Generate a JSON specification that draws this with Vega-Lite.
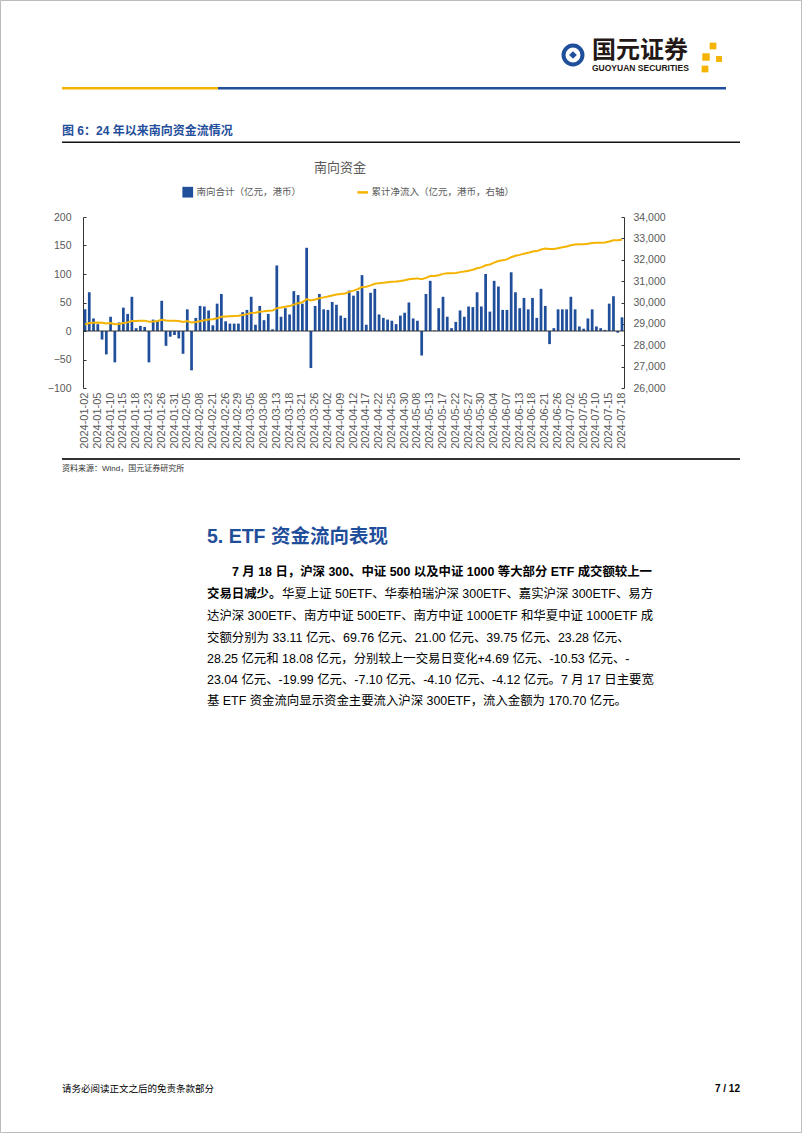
{
  "$schema": "https://vega.github.io/schema/vega-lite/v6.json",
  "width": 541,
  "height": 171,
  "autosize": "none",
  "padding": {"left": 83, "top": 217, "right": 178, "bottom": 745},
  "background": "white",
  "config": {
    "view": {"stroke": null},
    "font": "Liberation Sans, Noto Sans CJK SC",
    "axis": {"labelOverlap": false, "domainColor": "#333333", "tickColor": "#333333", "grid": false}
  },
  "datasets": {
    "sb": [
      {"date": "2024-01-02", "net": 38, "cum": 28968},
      {"date": "2024-01-03", "net": 68, "cum": 29036},
      {"date": "2024-01-04", "net": 22, "cum": 29058},
      {"date": "2024-01-05", "net": 12, "cum": 29070},
      {"date": "2024-01-08", "net": -15, "cum": 29055},
      {"date": "2024-01-09", "net": -41, "cum": 29014},
      {"date": "2024-01-10", "net": 25, "cum": 29039},
      {"date": "2024-01-11", "net": -55, "cum": 28984},
      {"date": "2024-01-12", "net": 15, "cum": 28999},
      {"date": "2024-01-15", "net": 41, "cum": 29040},
      {"date": "2024-01-16", "net": 30, "cum": 29070},
      {"date": "2024-01-17", "net": 60, "cum": 29130},
      {"date": "2024-01-18", "net": 5, "cum": 29135},
      {"date": "2024-01-19", "net": 9, "cum": 29144},
      {"date": "2024-01-22", "net": 7, "cum": 29151},
      {"date": "2024-01-23", "net": -55, "cum": 29096},
      {"date": "2024-01-24", "net": 20, "cum": 29116},
      {"date": "2024-01-25", "net": 18, "cum": 29134},
      {"date": "2024-01-26", "net": 53, "cum": 29187},
      {"date": "2024-01-29", "net": -26, "cum": 29161},
      {"date": "2024-01-30", "net": -10, "cum": 29151},
      {"date": "2024-01-31", "net": -7, "cum": 29144},
      {"date": "2024-02-01", "net": -13, "cum": 29131},
      {"date": "2024-02-02", "net": -40, "cum": 29091},
      {"date": "2024-02-05", "net": 38, "cum": 29129},
      {"date": "2024-02-06", "net": -69, "cum": 29060},
      {"date": "2024-02-07", "net": 23, "cum": 29083},
      {"date": "2024-02-08", "net": 44, "cum": 29127},
      {"date": "2024-02-19", "net": 43, "cum": 29170},
      {"date": "2024-02-20", "net": 36, "cum": 29206},
      {"date": "2024-02-21", "net": 10, "cum": 29216},
      {"date": "2024-02-22", "net": 48, "cum": 29264},
      {"date": "2024-02-23", "net": 65, "cum": 29329},
      {"date": "2024-02-26", "net": 17, "cum": 29346},
      {"date": "2024-02-27", "net": 13, "cum": 29359},
      {"date": "2024-02-28", "net": 13, "cum": 29372},
      {"date": "2024-02-29", "net": 13, "cum": 29385},
      {"date": "2024-03-01", "net": 33, "cum": 29418},
      {"date": "2024-03-04", "net": 37, "cum": 29455},
      {"date": "2024-03-05", "net": 60, "cum": 29515},
      {"date": "2024-03-06", "net": 11, "cum": 29526},
      {"date": "2024-03-07", "net": 44, "cum": 29570},
      {"date": "2024-03-08", "net": 19, "cum": 29589},
      {"date": "2024-03-11", "net": 30, "cum": 29619},
      {"date": "2024-03-12", "net": 3, "cum": 29622},
      {"date": "2024-03-13", "net": 115, "cum": 29737},
      {"date": "2024-03-14", "net": 25, "cum": 29762},
      {"date": "2024-03-15", "net": 40, "cum": 29802},
      {"date": "2024-03-18", "net": 29, "cum": 29831},
      {"date": "2024-03-19", "net": 70, "cum": 29901},
      {"date": "2024-03-20", "net": 63, "cum": 29964},
      {"date": "2024-03-21", "net": 48, "cum": 30012},
      {"date": "2024-03-22", "net": 146, "cum": 30158},
      {"date": "2024-03-25", "net": -65, "cum": 30093},
      {"date": "2024-03-26", "net": 44, "cum": 30137},
      {"date": "2024-03-27", "net": 65, "cum": 30202},
      {"date": "2024-03-28", "net": 38, "cum": 30240},
      {"date": "2024-04-02", "net": 37, "cum": 30277},
      {"date": "2024-04-03", "net": 51, "cum": 30328},
      {"date": "2024-04-08", "net": 46, "cum": 30374},
      {"date": "2024-04-09", "net": 27, "cum": 30401},
      {"date": "2024-04-10", "net": 23, "cum": 30424},
      {"date": "2024-04-11", "net": 71, "cum": 30495},
      {"date": "2024-04-12", "net": 62, "cum": 30557},
      {"date": "2024-04-15", "net": 70, "cum": 30627},
      {"date": "2024-04-16", "net": 98, "cum": 30725},
      {"date": "2024-04-17", "net": 11, "cum": 30736},
      {"date": "2024-04-18", "net": 67, "cum": 30803},
      {"date": "2024-04-19", "net": 74, "cum": 30877},
      {"date": "2024-04-22", "net": 29, "cum": 30906},
      {"date": "2024-04-23", "net": 23, "cum": 30929},
      {"date": "2024-04-24", "net": 20, "cum": 30949},
      {"date": "2024-04-25", "net": 18, "cum": 30967},
      {"date": "2024-04-26", "net": 12, "cum": 30979},
      {"date": "2024-04-29", "net": 27, "cum": 31006},
      {"date": "2024-04-30", "net": 32, "cum": 31038},
      {"date": "2024-05-06", "net": 50, "cum": 31088},
      {"date": "2024-05-07", "net": 22, "cum": 31110},
      {"date": "2024-05-08", "net": 18, "cum": 31128},
      {"date": "2024-05-09", "net": -43, "cum": 31085},
      {"date": "2024-05-10", "net": 65, "cum": 31150},
      {"date": "2024-05-13", "net": 88, "cum": 31238},
      {"date": "2024-05-14", "net": 1, "cum": 31239},
      {"date": "2024-05-16", "net": 40, "cum": 31279},
      {"date": "2024-05-17", "net": 60, "cum": 31339},
      {"date": "2024-05-20", "net": 25, "cum": 31364},
      {"date": "2024-05-21", "net": 5, "cum": 31369},
      {"date": "2024-05-22", "net": 16, "cum": 31385},
      {"date": "2024-05-23", "net": 36, "cum": 31421},
      {"date": "2024-05-24", "net": 25, "cum": 31446},
      {"date": "2024-05-27", "net": 43, "cum": 31489},
      {"date": "2024-05-28", "net": 42, "cum": 31531},
      {"date": "2024-05-29", "net": 68, "cum": 31599},
      {"date": "2024-05-30", "net": 43, "cum": 31642},
      {"date": "2024-05-31", "net": 100, "cum": 31742},
      {"date": "2024-06-03", "net": 34, "cum": 31776},
      {"date": "2024-06-04", "net": 88, "cum": 31864},
      {"date": "2024-06-05", "net": 78, "cum": 31942},
      {"date": "2024-06-06", "net": 37, "cum": 31979},
      {"date": "2024-06-07", "net": 37, "cum": 32016},
      {"date": "2024-06-11", "net": 103, "cum": 32119},
      {"date": "2024-06-12", "net": 68, "cum": 32187},
      {"date": "2024-06-13", "net": 40, "cum": 32227},
      {"date": "2024-06-14", "net": 58, "cum": 32285},
      {"date": "2024-06-17", "net": 38, "cum": 32323},
      {"date": "2024-06-18", "net": 58, "cum": 32381},
      {"date": "2024-06-19", "net": 23, "cum": 32404},
      {"date": "2024-06-20", "net": 74, "cum": 32478},
      {"date": "2024-06-21", "net": 44, "cum": 32522},
      {"date": "2024-06-24", "net": -23, "cum": 32499},
      {"date": "2024-06-25", "net": 5, "cum": 32504},
      {"date": "2024-06-26", "net": 38, "cum": 32542},
      {"date": "2024-06-27", "net": 38, "cum": 32580},
      {"date": "2024-06-28", "net": 38, "cum": 32618},
      {"date": "2024-07-02", "net": 60, "cum": 32678},
      {"date": "2024-07-03", "net": 38, "cum": 32716},
      {"date": "2024-07-04", "net": 8, "cum": 32724},
      {"date": "2024-07-05", "net": 4, "cum": 32728},
      {"date": "2024-07-08", "net": 22, "cum": 32750},
      {"date": "2024-07-09", "net": 38, "cum": 32788},
      {"date": "2024-07-10", "net": 8, "cum": 32796},
      {"date": "2024-07-11", "net": 5, "cum": 32801},
      {"date": "2024-07-12", "net": 2, "cum": 32803},
      {"date": "2024-07-15", "net": 48, "cum": 32851},
      {"date": "2024-07-16", "net": 61, "cum": 32912},
      {"date": "2024-07-17", "net": -3, "cum": 32909},
      {"date": "2024-07-18", "net": 24, "cum": 32933}
    ]
  },
  "layer": [
    {
      "data": {"name": "sb"},
      "layer": [
        {
          "mark": {"type": "bar"},
          "encoding": {
            "x": {
              "field": "date", "type": "ordinal",
              "scale": {"paddingInner": 0.36, "paddingOuter": 0.15},
              "axis": {
                "title": null, "domain": false, "ticks": false, "labelAngle": -90, "labelPadding": 4,
                "labelFontSize": 11, "labelColor": "#595959", "labelFont": "Liberation Sans", "labelOverlap": false,
                "values": ["2024-01-02","2024-01-05","2024-01-10","2024-01-15","2024-01-18","2024-01-23","2024-01-26","2024-01-31","2024-02-05","2024-02-08","2024-02-21","2024-02-26","2024-02-29","2024-03-05","2024-03-08","2024-03-13","2024-03-18","2024-03-21","2024-03-26","2024-04-02","2024-04-09","2024-04-12","2024-04-17","2024-04-22","2024-04-25","2024-04-30","2024-05-08","2024-05-13","2024-05-17","2024-05-22","2024-05-27","2024-05-30","2024-06-04","2024-06-07","2024-06-13","2024-06-18","2024-06-21","2024-06-26","2024-07-02","2024-07-05","2024-07-10","2024-07-15","2024-07-18"]
              }
            },
            "y": {
              "field": "net", "type": "quantitative",
              "scale": {"domain": [-100, 200], "nice": false},
              "axis": {
                "title": null, "orient": "left", "grid": false, "values": [-100, -50, 0, 50, 100, 150, 200],
                "labelOverlap": false, "domain": true, "domainColor": "#333333", "domainWidth": 1,
                "tickColor": "#333333", "tickSize": -3, "labelPadding": 15,
                "labelFontSize": 10.5, "labelColor": "#595959", "labelFont": "Liberation Sans"
              }
            },
            "color": {
              "datum": "南向合计（亿元，港币）",
              "scale": {"domain": ["南向合计（亿元，港币）", "累计净流入（亿元，港币，右轴）"], "range": ["#1F4E9B", "#F5B301"]},
              "legend": {
                "orient": "none", "legendX": 100, "legendY": -30, "direction": "horizontal", "title": null,
                "labelFontSize": 9.5, "labelColor": "#595959", "labelFont": "Noto Sans CJK SC",
                "columnPadding": 50, "labelOffset": 4, "symbolSize": 115,
                "encode": {
                  "symbols": {
                    "update": {
                      "shape": {"signal": "datum.value === '南向合计（亿元，港币）' ? 'square' : 'stroke'"},
                      "fill": {"signal": "scale('color', datum.value)"},
                      "stroke": {"signal": "scale('color', datum.value)"},
                      "strokeWidth": {"signal": "datum.value === '南向合计（亿元，港币）' ? 0 : 2.5"},
                      "opacity": {"value": 1},
                      "fillOpacity": {"value": 1}
                    }
                  }
                }
              }
            }
          }
        },
        {
          "data": {"values": [{}]},
          "mark": {"type": "rule", "color": "#333333", "strokeWidth": 1},
          "encoding": {
            "y": {
              "datum": 0, "type": "quantitative",
              "axis": {
                "title": null, "orient": "left", "grid": false, "values": [-100, -50, 0, 50, 100, 150, 200],
                "labelOverlap": false, "domain": true, "domainColor": "#333333", "domainWidth": 1,
                "tickColor": "#333333", "tickSize": -3, "labelPadding": 15,
                "labelFontSize": 10.5, "labelColor": "#595959", "labelFont": "Liberation Sans"
              }
            }
          }
        }
      ]
    },
    {
      "data": {"name": "sb"},
      "mark": {"type": "line", "strokeWidth": 2},
      "encoding": {
        "x": {"field": "date", "type": "ordinal", "axis": {"title": null}},
        "y": {
          "field": "cum", "type": "quantitative",
          "scale": {"domain": [26000, 34000], "nice": false},
          "axis": {
            "title": null, "orient": "right", "grid": false, "format": ",d",
            "values": [26000, 27000, 28000, 29000, 30000, 31000, 32000, 33000, 34000],
            "labelOverlap": false, "domain": true, "domainColor": "#333333", "domainWidth": 1,
            "tickColor": "#333333", "tickSize": -3, "labelPadding": 12,
            "labelFontSize": 10.5, "labelColor": "#595959", "labelFont": "Liberation Sans"
          }
        },
        "color": {"datum": "累计净流入（亿元，港币，右轴）"}
      }
    },
    {
      "data": {"values": [{}]},
      "layer": [
        {"mark": {"type": "rect", "fillOpacity": 0, "stroke": "#bbbbbb", "strokeWidth": 1},
         "encoding": {"x": {"value": -82.5}, "x2": {"value": 718.5}, "y": {"value": -216.5}, "y2": {"value": 915.5}}},
        {"mark": {"type": "rect", "color": "#F5B301"},
         "encoding": {"x": {"value": -21}, "x2": {"value": 135}, "y": {"value": -130}, "y2": {"value": -127.5}}},
        {"mark": {"type": "rect", "color": "#1F4E9B"},
         "encoding": {"x": {"value": 135}, "x2": {"value": 643}, "y": {"value": -130}, "y2": {"value": -127.5}}},
        {"mark": {"type": "point", "shape": "circle", "filled": false, "stroke": "#1F4E9B", "strokeWidth": 4, "size": 360, "opacity": 1},
         "encoding": {"x": {"value": 490}, "y": {"value": -162}}},
        {"mark": {"type": "point", "shape": "diamond", "filled": true, "color": "#1F4E9B", "size": 60, "opacity": 1},
         "encoding": {"x": {"value": 490}, "y": {"value": -162}}},
        {"mark": {"type": "text", "text": "国元证券", "align": "left", "baseline": "middle", "fontSize": 24, "fontWeight": "bold", "font": "Noto Sans CJK SC", "color": "#231815"},
         "encoding": {"x": {"value": 509}, "y": {"value": -166}}},
        {"mark": {"type": "text", "text": "GUOYUAN SECURITIES", "align": "left", "baseline": "middle", "fontSize": 8.5, "fontWeight": "bold", "font": "Liberation Sans", "color": "#231815"},
         "encoding": {"x": {"value": 509}, "y": {"value": -149}}},
        {"mark": {"type": "point", "shape": "square", "filled": true, "color": "#F5B301", "size": 45, "opacity": 1},
         "encoding": {"x": {"value": 630}, "y": {"value": -171}}},
        {"mark": {"type": "point", "shape": "square", "filled": true, "color": "#F5B301", "size": 55, "opacity": 1},
         "encoding": {"x": {"value": 623}, "y": {"value": -160}}},
        {"mark": {"type": "point", "shape": "square", "filled": true, "color": "#F5B301", "size": 35, "opacity": 1},
         "encoding": {"x": {"value": 636}, "y": {"value": -158}}},
        {"mark": {"type": "point", "shape": "square", "filled": true, "color": "#F5B301", "size": 45, "opacity": 1},
         "encoding": {"x": {"value": 622}, "y": {"value": -148}}},
        {"mark": {"type": "text", "text": "图 6：24 年以来南向资金流情况", "align": "left", "baseline": "middle", "fontSize": 12, "fontWeight": "bold", "font": "Liberation Sans, Noto Sans CJK SC", "color": "#1F4E9B"},
         "encoding": {"x": {"value": -21}, "y": {"value": -86}}},
        {"mark": {"type": "rect", "color": "#111111"},
         "encoding": {"x": {"value": -21}, "x2": {"value": 657}, "y": {"value": -75.5}, "y2": {"value": -74}}},
        {"mark": {"type": "text", "text": "南向资金", "align": "center", "baseline": "middle", "fontSize": 13, "font": "Noto Sans CJK SC", "color": "#595959"},
         "encoding": {"x": {"value": 257}, "y": {"value": -49}}},
        {"mark": {"type": "rect", "color": "#333333"},
         "encoding": {"x": {"value": -21}, "x2": {"value": 657}, "y": {"value": 241}, "y2": {"value": 243}}},
        {"mark": {"type": "text", "text": "资料来源：Wind，国元证券研究所", "align": "left", "baseline": "middle", "fontSize": 8, "font": "Liberation Sans, Noto Sans CJK SC", "color": "#333333"},
         "encoding": {"x": {"value": -21}, "y": {"value": 252}}},
        {"mark": {"type": "text", "text": "5. ETF 资金流向表现", "align": "left", "baseline": "middle", "fontSize": 19.5, "fontWeight": "bold", "font": "Liberation Sans, Noto Sans CJK SC", "color": "#1F4E9B"},
         "encoding": {"x": {"value": 124}, "y": {"value": 320}}},
        {"mark": {"type": "text", "text": "7 月 18 日，沪深 300、中证 500 以及中证 1000 等大部分 ETF 成交额较上一", "align": "left", "baseline": "middle", "fontSize": 12.4, "fontWeight": "bold", "font": "Liberation Sans, Noto Sans CJK SC", "color": "#000000"},
         "encoding": {"x": {"value": 149}, "y": {"value": 355}}},
        {"mark": {"type": "text", "text": "交易日减少。", "align": "left", "baseline": "middle", "fontSize": 12.4, "fontWeight": "bold", "font": "Liberation Sans, Noto Sans CJK SC", "color": "#000000"},
         "encoding": {"x": {"value": 124}, "y": {"value": 377}}},
        {"mark": {"type": "text", "text": "华夏上证 50ETF、华泰柏瑞沪深 300ETF、嘉实沪深 300ETF、易方", "align": "left", "baseline": "middle", "fontSize": 12.4, "font": "Liberation Sans, Noto Sans CJK SC", "color": "#000000"},
         "encoding": {"x": {"value": 199}, "y": {"value": 377}}},
        {"mark": {"type": "text", "text": "达沪深 300ETF、南方中证 500ETF、南方中证 1000ETF 和华夏中证 1000ETF 成", "align": "left", "baseline": "middle", "fontSize": 12.4, "font": "Liberation Sans, Noto Sans CJK SC", "color": "#000000"},
         "encoding": {"x": {"value": 124}, "y": {"value": 399}}},
        {"mark": {"type": "text", "text": "交额分别为  33.11 亿元、69.76 亿元、21.00 亿元、39.75 亿元、23.28 亿元、", "align": "left", "baseline": "middle", "fontSize": 12.4, "font": "Liberation Sans, Noto Sans CJK SC", "color": "#000000"},
         "encoding": {"x": {"value": 124}, "y": {"value": 420.5}}},
        {"mark": {"type": "text", "text": "28.25 亿元和  18.08 亿元，分别较上一交易日变化+4.69 亿元、-10.53 亿元、-", "align": "left", "baseline": "middle", "fontSize": 12.4, "font": "Liberation Sans, Noto Sans CJK SC", "color": "#000000"},
         "encoding": {"x": {"value": 124}, "y": {"value": 441.5}}},
        {"mark": {"type": "text", "text": "23.04 亿元、-19.99 亿元、-7.10 亿元、-4.10 亿元、-4.12 亿元。7 月 17 日主要宽", "align": "left", "baseline": "middle", "fontSize": 12.4, "font": "Liberation Sans, Noto Sans CJK SC", "color": "#000000"},
         "encoding": {"x": {"value": 124}, "y": {"value": 462.5}}},
        {"mark": {"type": "text", "text": "基 ETF 资金流向显示资金主要流入沪深 300ETF，流入金额为 170.70 亿元。", "align": "left", "baseline": "middle", "fontSize": 12.4, "font": "Liberation Sans, Noto Sans CJK SC", "color": "#000000"},
         "encoding": {"x": {"value": 124}, "y": {"value": 483.5}}},
        {"mark": {"type": "text", "text": "请务必阅读正文之后的免责条款部分", "align": "left", "baseline": "middle", "fontSize": 9.5, "font": "Noto Sans CJK SC", "color": "#000000"},
         "encoding": {"x": {"value": -21}, "y": {"value": 872}}},
        {"mark": {"type": "text", "text": "7 / 12", "align": "right", "baseline": "middle", "fontSize": 10, "fontWeight": "bold", "font": "Liberation Sans", "color": "#000000"},
         "encoding": {"x": {"value": 657}, "y": {"value": 872}}}
      ]
    }
  ],
  "resolve": {"scale": {"y": "independent"}}
}
